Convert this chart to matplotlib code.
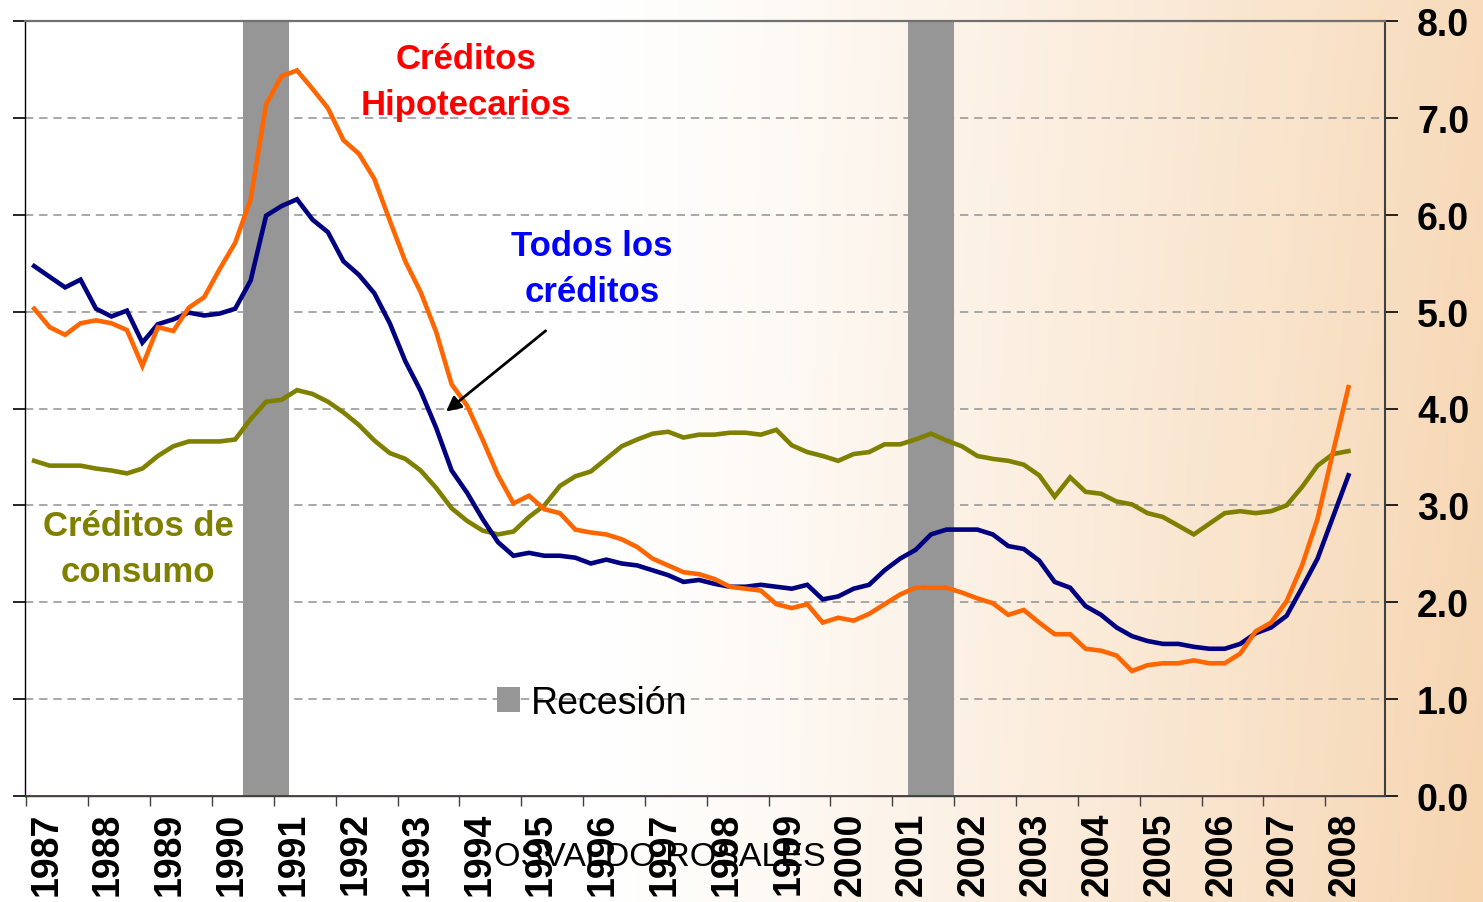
import matplotlib
matplotlib.use("Agg")
import matplotlib.pyplot as plt
import matplotlib.patches as mpatches
import numpy as np

plt.rcParams.update({
    "font.family": ["Liberation Sans", "DejaVu Sans"],
    "axes.linewidth": 1.0,
})

# ── Data (quarterly, 1987Q1 - 2008Q2) ─────────────────────────────────────────
START_YEAR = 1987
N_QUARTERS = 86

hipotecarios = [
    5.03, 4.84, 4.76, 4.88, 4.91, 4.88, 4.81, 4.44, 4.84, 4.80, 5.04, 5.15,
    5.44, 5.71, 6.16, 7.14, 7.43, 7.49, 7.30, 7.10, 6.77, 6.63, 6.37, 5.94,
    5.52, 5.20, 4.79, 4.25, 4.03, 3.68, 3.31, 3.02, 3.10, 2.96, 2.92, 2.75,
    2.72, 2.70, 2.65, 2.57, 2.45, 2.38, 2.31, 2.29, 2.24, 2.16, 2.14, 2.12,
    1.98, 1.94, 1.98, 1.79, 1.84, 1.81, 1.88, 1.98, 2.08, 2.15, 2.15, 2.15,
    2.10, 2.04, 1.99, 1.87, 1.92, 1.79, 1.67, 1.67, 1.52, 1.50, 1.45, 1.29,
    1.35, 1.37, 1.37, 1.40, 1.37, 1.37, 1.47, 1.70, 1.79, 2.01, 2.38, 2.86,
    3.55, 4.22,
]
todos = [
    5.47, 5.36, 5.25, 5.33, 5.03, 4.95, 5.01, 4.68, 4.87, 4.92, 4.99, 4.96,
    4.98, 5.03, 5.32, 5.99, 6.09, 6.16, 5.95, 5.82, 5.52, 5.38, 5.19, 4.88,
    4.49, 4.18, 3.80, 3.36, 3.13, 2.86, 2.62, 2.48, 2.51, 2.48, 2.48, 2.46,
    2.40, 2.44, 2.40, 2.38, 2.33, 2.28, 2.21, 2.23, 2.19, 2.16, 2.16, 2.18,
    2.16, 2.14, 2.18, 2.03, 2.06, 2.14, 2.18, 2.33, 2.45, 2.54, 2.70, 2.75,
    2.75, 2.75, 2.70, 2.58, 2.55, 2.43, 2.21, 2.15, 1.96, 1.87, 1.74, 1.65,
    1.60, 1.57, 1.57, 1.54, 1.52, 1.52, 1.57, 1.68, 1.74, 1.86, 2.15, 2.45,
    2.88, 3.31,
]
consumo = [
    3.46, 3.41, 3.41, 3.41, 3.38, 3.36, 3.33, 3.38, 3.51, 3.61, 3.66, 3.66,
    3.66, 3.68, 3.89, 4.07, 4.09, 4.19, 4.15, 4.07, 3.96, 3.83, 3.67, 3.54,
    3.48, 3.36, 3.18, 2.97, 2.84, 2.74, 2.70, 2.73, 2.88, 3.00, 3.20, 3.30,
    3.35, 3.48, 3.61, 3.68, 3.74, 3.76, 3.70, 3.73, 3.73, 3.75, 3.75, 3.73,
    3.78, 3.62, 3.55, 3.51, 3.46, 3.53, 3.55, 3.63, 3.63, 3.68, 3.74, 3.67,
    3.61, 3.51, 3.48, 3.46, 3.42, 3.31, 3.09, 3.29, 3.14, 3.12, 3.04, 3.01,
    2.92, 2.88, 2.79, 2.70, 2.81, 2.92, 2.94, 2.92, 2.94, 3.00, 3.19, 3.41,
    3.53, 3.56,
]
years = list(range(1987, 2009))
recessions = [(1990.5, 1991.25), (2001.25, 2002.0)]   # 1990Q3-1991Q1, 2001Q2-2001Q4

# quarter mid-points
x = START_YEAR + (np.arange(N_QUARTERS) + 0.5) / 4.0

# ── Colours ──────────────────────────────────────────────────────────────────
COL_HIP = "#FF6600"
COL_TOD = "#000080"
COL_CON = "#808000"
COL_REC = "#969696"

# ── Figure ───────────────────────────────────────────────────────────────────
W, H = 1483, 903
fig = plt.figure(figsize=(W / 100, H / 100), dpi=100)

# background: white on the left fading into peach on the right
bg = fig.add_axes([0, 0, 1, 1], zorder=-10)
gx = np.linspace(0, 1, 400)
gy = np.linspace(0, 1, 200)[:, None]
t = np.clip((gx * W - 600) / (W - 600), 0, 1) ** 1.2
t = t * (0.85 + 0.15 * gy)
peach = np.array([0.965, 0.835, 0.69])
img = (1 - t[..., None]) * np.ones(3) + t[..., None] * peach
bg.imshow(img, aspect="auto", extent=[0, 1, 0, 1], origin="upper")
bg.axis("off")

ax = fig.add_axes([25 / W, 1 - 797 / H, 1360 / W, 775 / H])
ax.set_facecolor("none")

# recession bands
for a, b in recessions:
    ax.axvspan(a, b, color=COL_REC, lw=0, zorder=2)

# gridlines
for v in range(1, 8):
    ax.axhline(v, color="#9a9a9a", lw=1.2, dashes=(5, 3.5), zorder=1)

ax.axhline(0, color="#990099", lw=2.0, zorder=3)

ax.plot(x, consumo, color=COL_CON, lw=3.3, zorder=4, solid_joinstyle="miter")
ax.plot(x, todos, color=COL_TOD, lw=3.3, zorder=5, solid_joinstyle="miter")
ax.plot(x, hipotecarios, color=COL_HIP, lw=3.3, zorder=6, solid_joinstyle="miter")

ax.set_xlim(1986.977, 2008.966)
ax.set_ylim(0, 8)

# ── Axes styling ─────────────────────────────────────────────────────────────
ax.spines["top"].set_color("#707070")
ax.spines["top"].set_linewidth(1.6)
ax.spines["right"].set_color("#404040")
ax.spines["right"].set_linewidth(1.5)
ax.spines["left"].set_color("black")
ax.spines["bottom"].set_color("#404040")

ax.set_yticks(range(0, 9))
ax.set_yticklabels([f"{v:.1f}" for v in range(0, 9)])
ax.tick_params(axis="y", left=True, right=True, labelleft=False,
               labelright=True, direction="out", length=9, width=1.2,
               pad=14, labelsize=27)
for lab in ax.get_yticklabels():
    lab.set_fontweight("bold")

ax.set_xticks(years)
ax.set_xticklabels([])
ax.set_xticks([yr + 0.32 for yr in years], minor=True)
ax.set_xticklabels([str(yr) for yr in years], minor=True, rotation=90,
                   fontsize=27, fontweight="bold")
ax.tick_params(axis="x", which="major", direction="out", length=7,
               width=1.0, color="#404040")
ax.tick_params(axis="x", which="minor", length=0, pad=11)

# ── Annotations ──────────────────────────────────────────────────────────────
ax.text(1994.11, 7.38, "Créditos\nHipotecarios", color="#FF0000",
        fontsize=25, fontweight="bold", ha="center", va="center",
        linespacing=1.5, zorder=7)
ax.text(1996.14, 5.45, "Todos los\ncréditos", color="#0000FF",
        fontsize=25, fontweight="bold", ha="center", va="center",
        linespacing=1.5, zorder=7)
ax.text(1988.81, 2.55, "Créditos de\nconsumo", color=COL_CON,
        fontsize=25, fontweight="bold", ha="center", va="center",
        linespacing=1.5, zorder=7)
ax.annotate("", xy=(1993.75, 3.95), xytext=(1995.43, 4.82),
            arrowprops=dict(arrowstyle="-|>", color="black", lw=2.0,
                            mutation_scale=22), zorder=7)

# legend
leg = fig.legend(handles=[mpatches.Patch(facecolor=COL_REC, edgecolor="none",
                                         label="Recesión")],
                 loc="center left", bbox_to_anchor=(497 / W, 1 - 704 / H),
                 frameon=False, fontsize=27, handlelength=0.6,
                 handleheight=0.65, handletextpad=0.3, borderpad=0,
                 borderaxespad=0)

# watermark
fig.text(660 / W, 1 - 858 / H, "OSVALDO ROSALES", fontsize=24.5,
         ha="center", va="center", color="black", zorder=20)

fig.savefig("out.png", dpi=100)
plt.close(fig)
